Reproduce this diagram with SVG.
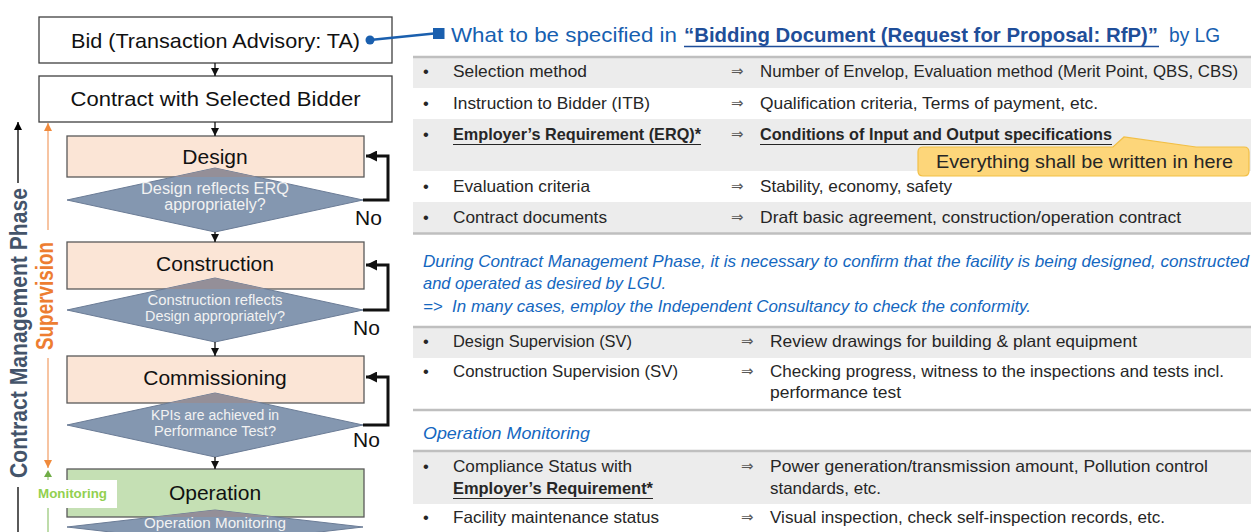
<svg xmlns="http://www.w3.org/2000/svg" width="1251" height="532" viewBox="0 0 1251 532">
<style>
text{font-family:"Liberation Sans",Arial,sans-serif}
.bx{fill:#fff;stroke:#404040;stroke-width:1.3}
.pk{fill:#fbe5d6;stroke:#595959;stroke-width:1.3}
.gn{fill:#c5e0b4;stroke:#595959;stroke-width:1.3}
.dm{fill:#8497b0;stroke:#6b7c96;stroke-width:1}
.tri{fill:#948f98}
.bt{font-size:21px;fill:#111;text-anchor:middle}
.dt{font-size:14.5px;fill:#f2f2f2;text-anchor:middle}
.no{font-size:21px;fill:#111}
.flow{stroke:#111;stroke-width:1.3;fill:none;marker-end:url(#ah)}
.loop{stroke:#111;stroke-width:3;fill:none;marker-end:url(#ahl)}
.r{font-size:16.5px;fill:#262626}
.b{font-weight:bold}
.ar{font-size:15px;fill:#595959;font-family:"DejaVu Sans",sans-serif}
.it{font-size:16.5px;fill:#1467c0;font-style:italic}
.sep{stroke:#bfbfbf;stroke-width:2.5}
.row{fill:#ececec}
.ul{stroke:#262626;stroke-width:1.2}
</style>
<defs>
<marker id="ah" viewBox="0 0 8 8" refX="8" refY="4" markerWidth="8" markerHeight="8" markerUnits="userSpaceOnUse" orient="auto"><path d="M0,0 L8,4 L0,8 z" fill="#111"/></marker>
<marker id="ahl" viewBox="0 0 10 10" refX="10" refY="5" markerWidth="11" markerHeight="11" markerUnits="userSpaceOnUse" orient="auto"><path d="M0,0 L10,5 L0,10 z" fill="#111"/></marker>
<marker id="ahk" viewBox="0 0 8 8" refX="8" refY="4" markerWidth="8" markerHeight="8" markerUnits="userSpaceOnUse" orient="auto"><path d="M0,0 L8,4 L0,8 z" fill="#000"/></marker>
<marker id="aho" viewBox="0 0 8 8" refX="8" refY="4" markerWidth="8" markerHeight="8" markerUnits="userSpaceOnUse" orient="auto"><path d="M0,0 L8,4 L0,8 z" fill="#f08a3c"/></marker>
</defs>

<!-- left phase labels -->
<g id="phase-labels">
<line x1="18" y1="183" x2="18" y2="122" stroke="#000" stroke-width="1.3" marker-end="url(#ahk)"/>
<text transform="translate(27,333) rotate(-90)" text-anchor="middle" font-size="24" font-weight="bold" fill="#44546a" textLength="290" lengthAdjust="spacingAndGlyphs">Contract Management Phase</text>
<line x1="18" y1="487" x2="18" y2="532" stroke="#000" stroke-width="1.3"/>
<line x1="48" y1="230" x2="48" y2="123" stroke="#f4b183" stroke-width="1.5" marker-end="url(#aho)"/>
<text transform="translate(53,296) rotate(-90)" text-anchor="middle" font-size="23" font-weight="bold" fill="#ed7d31" textLength="108" lengthAdjust="spacingAndGlyphs">Supervision</text>
<line x1="48" y1="358" x2="48" y2="468" stroke="#f4b183" stroke-width="1.5" marker-end="url(#aho)"/>
<polygon points="44,477 48,470 52,477" fill="#70ad47"/>
<line x1="48" y1="477" x2="48" y2="532" stroke="#a9d18e" stroke-width="1.5"/>
</g>

<!-- nodes -->
<g id="bid">
<rect class="bx" x="39" y="17" width="353" height="46"/>
<text class="bt" x="215.5" y="48" textLength="289" lengthAdjust="spacingAndGlyphs">Bid (Transaction Advisory: TA)</text>
</g>
<g id="contract">
<rect class="bx" x="39" y="76" width="353" height="46"/>
<text class="bt" x="215.5" y="106" textLength="290" lengthAdjust="spacingAndGlyphs">Contract with Selected Bidder</text>
</g>
<g id="design">
<rect class="pk" x="67" y="136" width="297" height="41"/>
<text class="bt" x="215" y="164">Design</text>
<polygon class="dm" points="67,200 215,168 363,200 215,232"/>
<polygon class="tri" points="173.4,177 215,168 256.6,177"/>
<text class="dt" x="215" y="194" style="font-size:16px" textLength="148" lengthAdjust="spacingAndGlyphs">Design reflects ERQ</text>
<text class="dt" x="215" y="210" style="font-size:16px">appropriately?</text>
</g>
<g id="construction">
<rect class="pk" x="67" y="242" width="297" height="47"/>
<text class="bt" x="215" y="271">Construction</text>
<polygon class="dm" points="67,310 215,278 363,310 215,342"/>
<polygon class="tri" points="164.1,289 215,278 265.9,289"/>
<text class="dt" x="215" y="305" textLength="135" lengthAdjust="spacingAndGlyphs">Construction reflects</text>
<text class="dt" x="215" y="321" textLength="140" lengthAdjust="spacingAndGlyphs">Design appropriately?</text>
</g>
<g id="commissioning">
<rect class="pk" x="67" y="356" width="297" height="47"/>
<text class="bt" x="215" y="385">Commissioning</text>
<polygon class="dm" points="67,425 215,393 363,425 215,457"/>
<polygon class="tri" points="168.75,403 215,393 261.25,403"/>
<text class="dt" x="215" y="420" textLength="128" lengthAdjust="spacingAndGlyphs">KPIs are achieved in</text>
<text class="dt" x="215" y="436" textLength="122" lengthAdjust="spacingAndGlyphs">Performance Test?</text>
</g>
<g id="operation">
<rect class="gn" x="67" y="469" width="297" height="48"/>
<text class="bt" x="215" y="500">Operation</text>
<polygon class="dm" points="67,527 215,510 363,527 215,544"/>
<polygon class="tri" points="154,517 215,510 276,517"/>
<text class="dt" x="215" y="528" textLength="142" lengthAdjust="spacingAndGlyphs">Operation Monitoring</text>
</g>
<g id="monitoring-label">
<rect x="37" y="480" width="80" height="28" fill="#fff"/>
<text x="38" y="498" font-size="13" font-weight="bold" fill="#92d050" textLength="69" lengthAdjust="spacingAndGlyphs">Monitoring</text>
</g>

<!-- connectors -->
<g id="connectors">
<line class="flow" x1="215" y1="63" x2="215" y2="76"/>
<line class="flow" x1="215" y1="122" x2="215" y2="136"/>
<line class="flow" x1="215" y1="232" x2="215" y2="242"/>
<line class="flow" x1="215" y1="342" x2="215" y2="356"/>
<line class="flow" x1="215" y1="457" x2="215" y2="469"/>
<path class="loop" d="M363,200 H388 V156 H366"/>
<path class="loop" d="M363,310 H388 V265 H366"/>
<path class="loop" d="M363,425 H388 V377 H366"/>
<text class="no" x="355" y="225">No</text>
<text class="no" x="353" y="335">No</text>
<text class="no" x="353" y="447">No</text>
<line x1="370" y1="40" x2="434" y2="33.5" stroke="#1a5fae" stroke-width="2.5"/>
<circle cx="370" cy="40" r="4.5" fill="#1a5fae"/>
<rect x="433" y="28" width="11.5" height="11" fill="#1a5fae"/>
</g>

<!-- heading -->
<g id="heading">
<text x="451" y="42" font-size="21" fill="#1660b0" textLength="226" lengthAdjust="spacingAndGlyphs">What to be specified in</text>
<text x="684" y="42" font-size="21" font-weight="bold" fill="#1f4e99" textLength="474" lengthAdjust="spacingAndGlyphs">“Bidding Document (Request for Proposal: RfP)”</text>
<line x1="684" y1="46.5" x2="1159" y2="46.5" stroke="#1f4e99" stroke-width="1.5"/>
<text x="1169" y="42" font-size="21" fill="#1660b0" textLength="51" lengthAdjust="spacingAndGlyphs">by LG</text>
</g>

<!-- table 1 -->
<g id="rfp-table">
<rect class="row" x="413" y="58" width="838" height="30"/>
<rect class="row" x="413" y="119" width="838" height="52"/>
<rect class="row" x="413" y="202" width="838" height="31"/>
<line class="sep" x1="413" y1="57" x2="1251" y2="57"/>
<line class="sep" x1="413" y1="233.5" x2="1251" y2="233.5"/>
<text class="r" x="423" y="77">•</text><text class="r" x="453" y="77" textLength="134" lengthAdjust="spacingAndGlyphs">Selection method</text>
<text class="ar" x="731" y="76">⇒</text><text class="r" x="760" y="77" textLength="478" lengthAdjust="spacingAndGlyphs">Number of Envelop, Evaluation method (Merit Point, QBS, CBS)</text>
<text class="r" x="423" y="109">•</text><text class="r" x="453" y="109" textLength="197" lengthAdjust="spacingAndGlyphs">Instruction to Bidder (ITB)</text>
<text class="ar" x="731" y="108">⇒</text><text class="r" x="760" y="109" textLength="338" lengthAdjust="spacingAndGlyphs">Qualification criteria, Terms of payment, etc.</text>
<text class="r" x="423" y="140">•</text><text class="r b" x="453" y="140" textLength="248" lengthAdjust="spacingAndGlyphs">Employer’s Requirement (ERQ)*</text>
<line class="ul" x1="453" y1="144.5" x2="701" y2="144.5"/>
<text class="ar" x="731" y="139">⇒</text><text class="r b" x="760" y="140" textLength="352" lengthAdjust="spacingAndGlyphs">Conditions of Input and Output specifications</text>
<line class="ul" x1="760" y1="144.5" x2="1112" y2="144.5"/>
<text class="r" x="423" y="192">•</text><text class="r" x="453" y="192" textLength="137" lengthAdjust="spacingAndGlyphs">Evaluation criteria</text>
<text class="ar" x="731" y="191">⇒</text><text class="r" x="760" y="192" textLength="192" lengthAdjust="spacingAndGlyphs">Stability, economy, safety</text>
<text class="r" x="423" y="223">•</text><text class="r" x="453" y="223" textLength="154" lengthAdjust="spacingAndGlyphs">Contract documents</text>
<text class="ar" x="731" y="222">⇒</text><text class="r" x="760" y="223" textLength="421" lengthAdjust="spacingAndGlyphs">Draft basic agreement, construction/operation contract</text>
</g>

<g id="callout">
<path d="M923,147 H1113 L1124,137 L1196,147 H1244 Q1249,147 1249,152 V171 Q1249,176 1244,176 H923 Q918,176 918,171 V152 Q918,147 923,147 Z" fill="#fdd67a" stroke="#f2bf45" stroke-width="1.2"/>
<text x="936" y="168" font-size="19" fill="#262626" textLength="297" lengthAdjust="spacingAndGlyphs">Everything shall be written in here</text>
</g>

<!-- supervision text -->
<g id="supervision-note">
<text class="it" x="423" y="267" textLength="826" lengthAdjust="spacingAndGlyphs">During Contract Management Phase, it is necessary to confirm that the facility is being designed, constructed</text>
<text class="it" x="423" y="289" textLength="243" lengthAdjust="spacingAndGlyphs">and operated as desired by LGU.</text>
<text class="it" x="423" y="312" style="white-space:pre" textLength="608" lengthAdjust="spacingAndGlyphs">=&gt;  In many cases, employ the Independent Consultancy to check the conformity.</text>
</g>

<!-- table 2 -->
<g id="sv-table">
<rect class="row" x="413" y="328" width="838" height="30"/>
<line class="sep" x1="413" y1="327" x2="1251" y2="327"/>
<line class="sep" x1="413" y1="410" x2="1251" y2="410"/>
<text class="r" x="423" y="347">•</text><text class="r" x="453" y="347" textLength="179" lengthAdjust="spacingAndGlyphs">Design Supervision (SV)</text>
<text class="ar" x="741" y="346">⇒</text><text class="r" x="770" y="347" textLength="367" lengthAdjust="spacingAndGlyphs">Review drawings for building &amp; plant equipment</text>
<text class="r" x="423" y="377">•</text><text class="r" x="453" y="377" textLength="225" lengthAdjust="spacingAndGlyphs">Construction Supervision (SV)</text>
<text class="ar" x="741" y="376">⇒</text><text class="r" x="770" y="377" textLength="454" lengthAdjust="spacingAndGlyphs">Checking progress, witness to the inspections and tests incl.</text>
<text class="r" x="770" y="398" textLength="131" lengthAdjust="spacingAndGlyphs">performance test</text>
</g>

<g id="om-table">
<text class="it" x="423" y="439" textLength="167" lengthAdjust="spacingAndGlyphs">Operation Monitoring</text>
<rect class="row" x="413" y="452" width="838" height="52"/>
<line class="sep" x1="413" y1="451" x2="1251" y2="451"/>
<text class="r" x="423" y="472">•</text><text class="r" x="453" y="472" textLength="179" lengthAdjust="spacingAndGlyphs">Compliance Status with</text>
<text class="r b" x="453" y="494" textLength="200" lengthAdjust="spacingAndGlyphs">Employer’s Requirement*</text>
<line class="ul" x1="453" y1="498.5" x2="653" y2="498.5"/>
<text class="ar" x="741" y="471">⇒</text><text class="r" x="770" y="472" textLength="438" lengthAdjust="spacingAndGlyphs">Power generation/transmission amount, Pollution control</text>
<text class="r" x="770" y="494" textLength="111" lengthAdjust="spacingAndGlyphs">standards, etc.</text>
<text class="r" x="423" y="523">•</text><text class="r" x="453" y="523" textLength="206" lengthAdjust="spacingAndGlyphs">Facility maintenance status</text>
<text class="ar" x="741" y="522">⇒</text><text class="r" x="770" y="523" textLength="395" lengthAdjust="spacingAndGlyphs">Visual inspection, check self-inspection records, etc.</text>
</g>
</svg>
